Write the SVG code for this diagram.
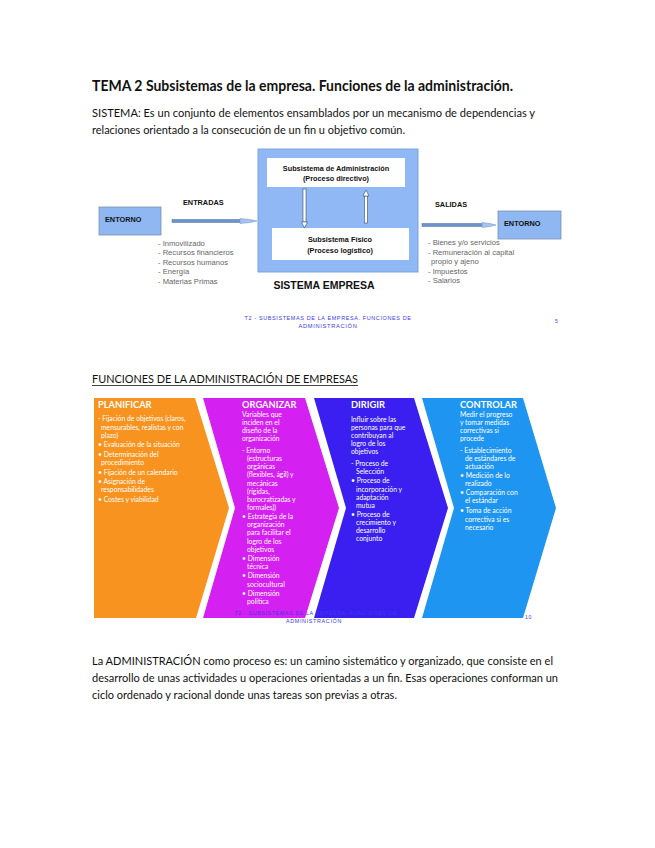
<svg xmlns="http://www.w3.org/2000/svg" width="655" height="848" viewBox="0 0 655 848">
<style>
.body{font-family:Lato,"Open Sans","Liberation Sans",sans-serif;fill:#111}
.ttl{font-weight:bold;font-size:15px}
.p{font-size:10.5px}
.ar{font-family:"Liberation Sans",Arial,sans-serif}
.bold{font-weight:bold;fill:#111}
.lst{font-size:7.6px;fill:#666}
.foot{font-family:"Liberation Sans",Arial,sans-serif;font-size:5px;fill:#3a3ae8;letter-spacing:0.6px}
.ch{font-family:Lato,"Open Sans","Liberation Sans",sans-serif;fill:#fff;font-size:6.8px}
.cht{font-family:Lato,"Open Sans","Liberation Sans",sans-serif;fill:#fff;font-size:9.3px;font-weight:bold}
.box{fill:#8fb8f2;stroke:#7a8fae;stroke-width:0.8}
.wbox{fill:#fff}
</style>

<!-- page text -->
<g id="title">
<text class="body ttl" x="92" y="91" textLength="421" lengthAdjust="spacingAndGlyphs">TEMA 2 Subsistemas de la empresa. Funciones de la administración.</text>
</g>
<g id="sistema-text">
<text class="body p" x="92" y="117" textLength="443" lengthAdjust="spacingAndGlyphs">SISTEMA: Es un conjunto de elementos ensamblados por un mecanismo de dependencias y</text>
<text class="body p" x="92" y="134" textLength="313" lengthAdjust="spacingAndGlyphs">relaciones orientado a la consecución de un fin u objetivo común.</text>
</g>

<!-- system diagram -->
<g id="sistema-empresa">
<rect x="258" y="149" width="160" height="123" fill="#8fb8f5" stroke="#7fa3dc" stroke-width="1"/>
<text class="ar bold" x="324" y="289" font-size="10.5" text-anchor="middle">SISTEMA EMPRESA</text>
</g>
<g id="subsistema-admin">
<rect class="wbox" x="267" y="158" width="138" height="29"/>
<text class="ar bold" x="336" y="171" font-size="7.3" text-anchor="middle">Subsistema de Administración</text>
<text class="ar bold" x="336" y="181" font-size="7.3" text-anchor="middle">(Proceso directivo)</text>
</g>
<g id="subsistema-fisico">
<rect class="wbox" x="272" y="228" width="137" height="32"/>
<text class="ar bold" x="340" y="242" font-size="7.3" text-anchor="middle">Subsistema Físico</text>
<text class="ar bold" x="340" y="253" font-size="7.3" text-anchor="middle">(Proceso logístico)</text>
</g>
<g id="entorno-izq">
<rect class="box" x="99" y="207" width="62" height="28"/>
<text class="ar bold" x="105" y="222" font-size="7.3">ENTORNO</text>
</g>
<g id="entorno-der">
<rect class="box" x="498" y="211" width="63" height="28"/>
<text class="ar bold" x="504" y="226" font-size="7.3">ENTORNO</text>
</g>

<g id="connectors">
<!-- entradas -->
<rect x="172" y="219.5" width="70" height="3" fill="#6c93cc" stroke="#4f6f9f" stroke-width="0.5"/>
<polygon points="240,218.5 250,219.5 257,221 250,222.5 240,223.5" fill="#a7c4ee" stroke="#6c93cc" stroke-width="0.5"/>
<!-- salidas -->
<rect x="422" y="223.5" width="62" height="3" fill="#6c93cc" stroke="#4f6f9f" stroke-width="0.5"/>
<polygon points="482,222.5 490,223.5 496,225 490,226.5 482,227.5" fill="#a7c4ee" stroke="#6c93cc" stroke-width="0.5"/>
<!-- down arrow -->
<rect x="303" y="189" width="3" height="33" fill="#fff" stroke="#3d4a66" stroke-width="0.6"/>
<polygon points="301.5,222 307.5,222 304.5,228" fill="#fff" stroke="#3d4a66" stroke-width="0.6"/>
<!-- up arrow -->
<rect x="364.5" y="196" width="3" height="27" fill="#fff" stroke="#3d4a66" stroke-width="0.6"/>
<polygon points="363,196 369,196 366,190" fill="#fff" stroke="#3d4a66" stroke-width="0.6"/>
</g>

<g id="labels">
<text class="ar bold" x="183" y="205" font-size="7.3">ENTRADAS</text>
<text class="ar bold" x="435" y="207" font-size="7.3">SALIDAS</text>
<text class="ar lst" x="158" y="246">- Inmovilizado</text>
<text class="ar lst" x="158" y="255">- Recursos financieros</text>
<text class="ar lst" x="158" y="264.5">- Recursos humanos</text>
<text class="ar lst" x="158" y="274">- Energía</text>
<text class="ar lst" x="158" y="283.5">- Materias Primas</text>
<text class="ar lst" x="428" y="245">- Bienes y/o servicios</text>
<text class="ar lst" x="428" y="254.5">- Remuneración al capital</text>
<text class="ar lst" x="431" y="264">propio y ajeno</text>
<text class="ar lst" x="428" y="273.5">- Impuestos</text>
<text class="ar lst" x="428" y="283">- Salarios</text>
</g>

<g id="footer1">
<text class="foot" x="328" y="320" text-anchor="middle" textLength="167" lengthAdjust="spacingAndGlyphs">T2 - SUBSISTEMAS DE LA EMPRESA. FUNCIONES DE</text>
<text class="foot" x="328" y="328" text-anchor="middle" textLength="59" lengthAdjust="spacingAndGlyphs">ADMINISTRACIÓN</text>
<text class="foot" x="555" y="323">5</text>
</g>

<g id="funciones-heading">
<text class="body p" x="92" y="383" textLength="266" lengthAdjust="spacingAndGlyphs">FUNCIONES DE LA ADMINISTRACIÓN DE EMPRESAS</text>
<line x1="92" y1="385.5" x2="358" y2="385.5" stroke="#111" stroke-width="0.8"/>
</g>

<!-- chevrons -->
<g id="planificar">
<polygon points="94,398 195,398 229,508 196,618 94,618" fill="#f7931e"/>
<text class="cht" x="98" y="408">PLANIFICAR</text>
<text class="ch" x="98" y="421">- Fijación de objetivos (claros,</text>
<text class="ch" x="101" y="429.5">mensurables, realistas y con</text>
<text class="ch" x="101" y="438">plazo)</text>
<text class="ch" x="98" y="447">• Evaluación de la situación</text>
<text class="ch" x="98" y="457">• Determinación del</text>
<text class="ch" x="101" y="465">procedimiento</text>
<text class="ch" x="98" y="474.5">• Fijación de un calendario</text>
<text class="ch" x="98" y="483.5">• Asignación de</text>
<text class="ch" x="101" y="492">responsabilidades</text>
<text class="ch" x="98" y="502">• Costes y viabilidad</text>
</g>
<g id="organizar">
<polygon points="203,398 305,398 339,508 305,618 203,618 235,508" fill="#d420f0"/>
<text class="cht" x="242" y="408">ORGANIZAR</text>
<text class="ch" x="242" y="417">Variables que</text>
<text class="ch" x="242" y="425">inciden en el</text>
<text class="ch" x="242" y="433">diseño de la</text>
<text class="ch" x="242" y="441">organización</text>
<text class="ch" x="242" y="453">- Entorno</text>
<text class="ch" x="247" y="461">(estructuras</text>
<text class="ch" x="247" y="469">orgánicas</text>
<text class="ch" x="247" y="477">(flexibles, ágil) y</text>
<text class="ch" x="247" y="485.5">mecánicas</text>
<text class="ch" x="247" y="493.5">(rígidas,</text>
<text class="ch" x="247" y="502">burocratizadas y</text>
<text class="ch" x="247" y="510">formales))</text>
<text class="ch" x="242" y="519">• Estrategia de la</text>
<text class="ch" x="247" y="527">organización</text>
<text class="ch" x="247" y="535">para facilitar el</text>
<text class="ch" x="247" y="543.5">logro de los</text>
<text class="ch" x="247" y="552">objetivos</text>
<text class="ch" x="242" y="561">• Dimensión</text>
<text class="ch" x="247" y="569">técnica</text>
<text class="ch" x="242" y="578">• Dimensión</text>
<text class="ch" x="247" y="587">sociocultural</text>
<text class="ch" x="242" y="596">• Dimensión</text>
<text class="ch" x="247" y="604">política</text>
</g>
<g id="dirigir">
<polygon points="314,398 414,398 448,508 414,618 314,618 346,508" fill="#3a1ff0"/>
<text class="cht" x="351" y="408">DIRIGIR</text>
<text class="ch" x="351" y="422">Influir sobre las</text>
<text class="ch" x="351" y="430">personas para que</text>
<text class="ch" x="351" y="438">contribuyan al</text>
<text class="ch" x="351" y="446">logro de los</text>
<text class="ch" x="351" y="454">objetivos</text>
<text class="ch" x="351" y="466">- Proceso de</text>
<text class="ch" x="356" y="474">Selección</text>
<text class="ch" x="351" y="483">• Proceso de</text>
<text class="ch" x="356" y="491.5">incorporación y</text>
<text class="ch" x="356" y="499.5">adaptación</text>
<text class="ch" x="356" y="508">mutua</text>
<text class="ch" x="351" y="517">• Proceso de</text>
<text class="ch" x="356" y="525">crecimiento y</text>
<text class="ch" x="356" y="533">desarrollo</text>
<text class="ch" x="356" y="541">conjunto</text>
</g>
<g id="controlar">
<polygon points="422,398 523,398 556,508 523,618 422,618 454,508" fill="#1e95f0"/>
<text class="cht" x="460" y="408">CONTROLAR</text>
<text class="ch" x="460" y="417">Medir el progreso</text>
<text class="ch" x="460" y="425">y tomar medidas</text>
<text class="ch" x="460" y="433">correctivas si</text>
<text class="ch" x="460" y="441">procede</text>
<text class="ch" x="460" y="453">- Establecimiento</text>
<text class="ch" x="465" y="461">de estándares de</text>
<text class="ch" x="465" y="469">actuación</text>
<text class="ch" x="460" y="478">• Medición de lo</text>
<text class="ch" x="465" y="486">realizado</text>
<text class="ch" x="460" y="495">• Comparación con</text>
<text class="ch" x="465" y="503">el estándar</text>
<text class="ch" x="460" y="513">• Toma de acción</text>
<text class="ch" x="465" y="521.5">correctiva si es</text>
<text class="ch" x="465" y="529.5">necesario</text>
</g>

<g id="footer2">
<text class="foot" x="316" y="615" text-anchor="middle" textLength="163" lengthAdjust="spacingAndGlyphs">T2 - SUBSISTEMAS DE LA EMPRESA. FUNCIONES DE</text>
<text class="foot" x="314" y="623" text-anchor="middle" textLength="56" lengthAdjust="spacingAndGlyphs">ADMINISTRACIÓN</text>
<text class="foot" x="525" y="619">10</text>
</g>

<g id="administracion-text">
<text class="body p" x="92" y="665" textLength="461" lengthAdjust="spacingAndGlyphs">La ADMINISTRACIÓN como proceso es: un camino sistemático y organizado, que consiste en el</text>
<text class="body p" x="92" y="682" textLength="466" lengthAdjust="spacingAndGlyphs">desarrollo de unas actividades u operaciones orientadas a un fin. Esas operaciones conforman un</text>
<text class="body p" x="92" y="699" textLength="305" lengthAdjust="spacingAndGlyphs">ciclo ordenado y racional donde unas tareas son previas a otras.</text>
</g>
</svg>
